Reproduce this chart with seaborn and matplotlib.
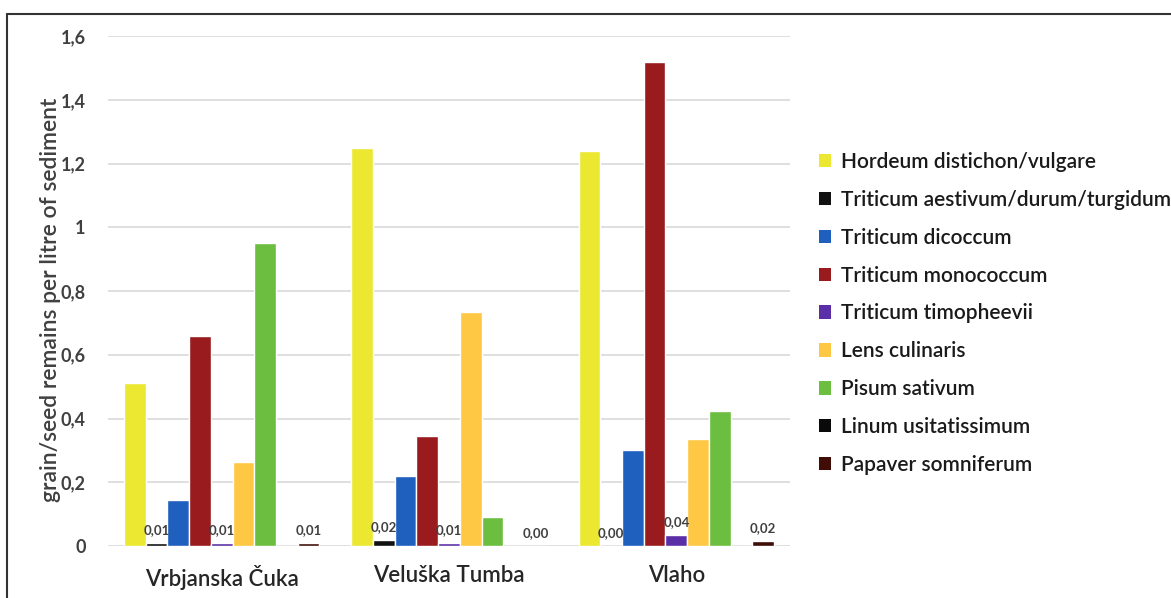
import matplotlib
matplotlib.use("Agg")
import matplotlib.pyplot as plt
import seaborn as sns
import pandas as pd
from matplotlib.lines import Line2D
from matplotlib.patches import Patch

sites = ["Vrbjanska Čuka", "Veluška Tumba", "Vlaho"]
taxa = ["Hordeum distichon/vulgare", "Triticum aestivum/durum/turgidum",
        "Triticum dicoccum", "Triticum monococcum", "Triticum timopheevii",
        "Lens culinaris", "Pisum sativum", "Linum usitatissimum",
        "Papaver somniferum"]
hordeum = [0.51, 1.25, 1.24]
aestivum = [0.01, 0.02, 0.0]
dicoccum = [0.145, 0.22, 0.30]
monococcum = [0.66, 0.345, 1.52]
timopheevii = [0.01, 0.01, 0.036]
lens = [0.265, 0.735, 0.335]
pisum = [0.95, 0.09, 0.425]
linum = [0.0, 0.0, 0.0]
papaver = [0.01, 0.0, 0.016]
colors = ["#ECE832", "#111111", "#1F5FBE", "#991B1E", "#5A2EA6",
          "#FEC844", "#6BBE3F", "#0A0A0A", "#3F0C06"]
labelled = ["Triticum aestivum/durum/turgidum", "Triticum timopheevii",
            "Papaver somniferum"]
yticks = [0, 0.2, 0.4, 0.6, 0.8, 1.0, 1.2, 1.4, 1.6]
ytick_labels = ["0", "0,2", "0,4", "0,6", "0,8", "1", "1,2", "1,4", "1,6"]

series = [hordeum, aestivum, dicoccum, monococcum, timopheevii, lens,
          pisum, linum, papaver]
rows = []
for t, vals in zip(taxa, series):
    for s, v in zip(sites, vals):
        rows.append({"site": s, "taxon": t, "value": v})
df = pd.DataFrame(rows)

sns.set_theme(style="white")
plt.rcParams["font.family"] = ["Lato", "DejaVu Sans"]
text_col = "#404040"

fig = plt.figure(figsize=(11.71, 5.98), dpi=100)
ax = fig.add_axes([108 / 1171, 1 - 546 / 598, (790 - 108) / 1171, (546 - 36) / 598])
palette = dict(zip(taxa, colors))
sns.barplot(data=df, x="site", y="value", hue="taxon", order=sites,
            hue_order=taxa, palette=palette, width=0.86, saturation=1,
            errorbar=None, ax=ax, legend=False)

for t, cont in zip(taxa, ax.containers):
    if t in labelled:
        ax.bar_label(cont, labels=[f"{b.get_height():.2f}".replace(".", ",") for b in cont],
                     padding=5, fontsize=9.5, fontweight="bold", color=text_col)

ax.set_ylim(0, 1.6)
ax.set_xlim(-0.5, 2.5)
ax.set_yticks(yticks)
ax.set_yticklabels(ytick_labels, fontsize=13, fontweight="bold", color=text_col)
ax.tick_params(axis="y", length=0, pad=16)
ax.tick_params(axis="x", length=0, pad=14, labelsize=16, labelcolor="#262626")
for lab in ax.get_xticklabels():
    lab.set_fontweight("semibold")
ax.yaxis.grid(True, color="#d9d9d9", linewidth=1.2)
ax.set_axisbelow(True)
for sp in ax.spines.values():
    sp.set_visible(False)
ax.set_xlabel("")
ax.set_ylabel("grain/seed remains per litre of sediment", fontsize=16.5,
              color=text_col, fontweight="semibold")
ax.yaxis.set_label_coords(-47 / 682, 0.482)

handles = [Patch(facecolor=c, edgecolor="none") for c in colors]
fig.legend(handles, taxa, loc="upper left", bbox_to_anchor=(800 / 1171, 1 - 133 / 598),
           frameon=False, handlelength=0.6, handleheight=0.6,
           handletextpad=0.45, labelspacing=0.86, labelcolor="#1a1a1a",
           prop={"size": 15, "weight": "semibold"})

fig.add_artist(Line2D([7 / 1171, 7 / 1171], [0, 1 - 14 / 598], transform=fig.transFigure,
                      color="#333333", linewidth=1.5))
fig.add_artist(Line2D([7 / 1171, 1], [1 - 14 / 598, 1 - 14 / 598], transform=fig.transFigure,
                      color="#333333", linewidth=1.5))

fig.savefig("out.png", dpi=100)
